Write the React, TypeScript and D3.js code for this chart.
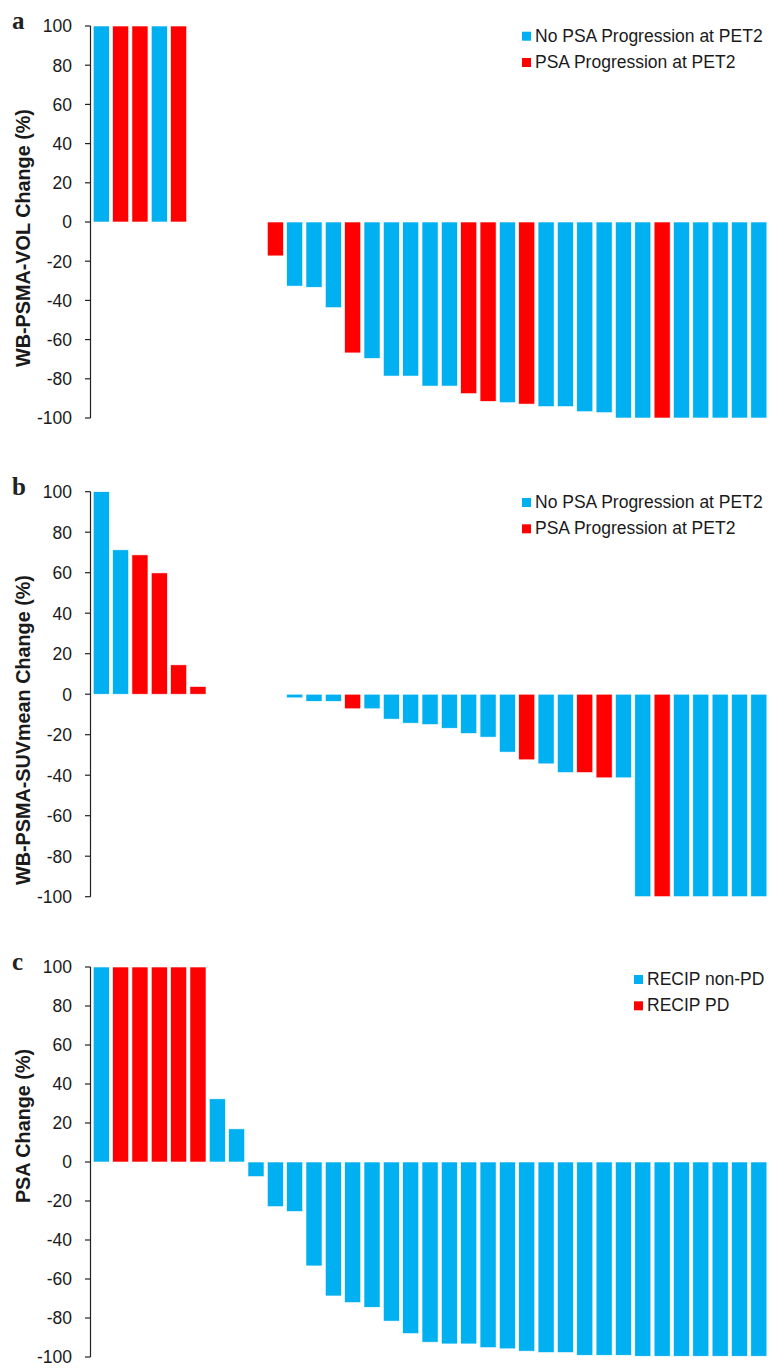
import React, { useEffect } from "react";
import * as d3 from "d3";

const BLUE = "#00B0F0";
const RED = "#FF0000";

// Panel a: WB-PSMA-VOL change (%), null = no bar
const volValues: (number | null)[] = [100, 100, 100, 100, 100, null, null, null, null,
  -17.3, -32.7, -33.3, -43.7, -66.8, -69.6,
  -78.6, -78.6, -83.7, -83.7, -87.6, -91.5, -92.2, -92.9, -94.2, -94.2,
  -96.8, -97.3, -100, -100, -100, -100, -100, -100, -100, -100];
const volGroups: string[] = ["n", "p", "p", "n", "p", "", "", "", "",
  "p", "n", "n", "n", "p", "n",
  "n", "n", "n", "n", "p", "p", "n", "p", "n", "n",
  "n", "n", "n", "n", "p", "n", "n", "n", "n", "n"];

// Panel b: WB-PSMA-SUVmean change (%)
const suvValues: (number | null)[] = [100, 71.3, 68.8, 59.9, 14.5, 3.8, null, null, null, null,
  -1.8, -3.5, -3.5, -7.2, -7.2,
  -12.3, -14.3, -15.0, -16.8, -19.4, -21.2, -28.6, -32.4, -34.4, -38.7,
  -38.7, -41.3, -41.3, -100, -100, -100, -100, -100, -100, -100];
const suvGroups: string[] = ["n", "n", "p", "p", "p", "p", "", "", "", "",
  "n", "n", "n", "p", "n",
  "n", "n", "n", "n", "n", "n", "n", "p", "n", "n",
  "p", "p", "n", "n", "p", "n", "n", "n", "n", "n"];

// Panel c: PSA change (%)
const psaValues: (number | null)[] = [100, 100, 100, 100, 100, 100, 32.4, 17.0, -7.5, -22.9, -25.4,
  -53.3, -68.7, -72.1, -74.5,
  -81.6, -88.0, -92.4, -93.3, -93.3, -95.2, -95.8, -97.0, -97.7, -97.7,
  -99.1, -99.1, -99.1, -99.6, -99.6, -99.6, -99.6, -99.6, -99.6, -99.6];
const psaGroups: string[] = ["n", "p", "p", "p", "p", "p", "n", "n", "n", "n", "n",
  "n", "n", "n", "n",
  "n", "n", "n", "n", "n", "n", "n", "n", "n", "n",
  "n", "n", "n", "n", "n", "n", "n", "n", "n", "n"];

const tickValues = [100, 80, 60, 40, 20, 0, -20, -40, -60, -80, -100];
const legendPSA = ["No PSA Progression at PET2", "PSA Progression at PET2"];
const legendRECIP = ["RECIP non-PD", "RECIP PD"];

interface PanelProps {
  label: string;
  title: string;
  values: (number | null)[];
  groups: string[];
  legend: string[];
  yTop: number;
  yBottom: number;
  titleCenter: number;
  legendX: number;
  legendBase: number;
}

const SANS = "'Liberation Sans', Arial, sans-serif";

function Panel(p: PanelProps) {
  const axisX = 90.5;
  const y = d3.scaleLinear().domain([-100, 100]).range([p.yBottom, p.yTop]);
  const idx = d3.range(p.values.length);
  const x = d3.scaleBand<number>().domain(idx).range([91.6, 768.5]).paddingInner(0.17).paddingOuter(0.085);
  const color = d3.scaleOrdinal<string, string>().domain(["n", "p"]).range([BLUE, RED]);
  return (
    <g>
      <text x={12} y={p.yTop + 3} fontFamily="'Liberation Serif', 'Times New Roman', serif" fontWeight="bold"
        fontSize={25} fill="#222">{p.label}</text>
      {idx.map((i) => {
        const v = p.values[i];
        if (v === null) return null;
        const y0 = y(0), y1 = y(v);
        return (
          <rect key={i} x={x(i)} y={Math.min(y0, y1)} width={x.bandwidth()} height={Math.abs(y1 - y0)}
            fill={color(p.groups[i])} stroke="#ffffff" strokeWidth={0.6} />
        );
      })}
      <line x1={axisX} x2={axisX} y1={y(100)} y2={y(-100)} stroke="#222" strokeWidth={1.2} />
      {tickValues.map((t) => (
        <g key={t}>
          <line x1={axisX - 5.5} x2={axisX} y1={y(t)} y2={y(t)} stroke="#222" strokeWidth={1.2} />
          <text x={72} y={y(t)} dy="0.36em" textAnchor="end" fontFamily={SANS} fontSize={17.5} fill="#1a1a1a">{t}</text>
        </g>
      ))}
      <text transform={`translate(30,${p.titleCenter}) rotate(-90)`} textAnchor="middle" fontFamily={SANS}
        fontWeight="bold" fontSize={19.8} fill="#1a1a1a">{p.title}</text>
      {p.legend.map((l, i) => (
        <g key={l}>
          <rect x={p.legendX} y={p.legendBase + i * 26.3 - 10} width={9} height={9} fill={i === 0 ? BLUE : RED} />
          <text x={p.legendX + 13} y={p.legendBase + i * 26.3} fontFamily={SANS} fontSize={17.5} fill="#1a1a1a">{l}</text>
        </g>
      ))}
    </g>
  );
}

export default function App() {
  useEffect(() => {
    document.body.style.margin = "0";
  }, []);
  return (
    <svg width={771} height={1368} style={{ display: "block", background: "#fff" }}>
      <Panel label="a" title="WB-PSMA-VOL Change (%)" values={volValues} groups={volGroups} legend={legendPSA}
        yTop={26} yBottom={418} titleCenter={238} legendX={522} legendBase={41.7} />
      <Panel label="b" title="WB-PSMA-SUVmean Change (%)" values={suvValues} groups={suvGroups} legend={legendPSA}
        yTop={491.7} yBottom={896.7} titleCenter={730} legendX={522} legendBase={508} />
      <Panel label="c" title="PSA Change (%)" values={psaValues} groups={psaGroups} legend={legendRECIP}
        yTop={967} yBottom={1357} titleCenter={1126} legendX={634} legendBase={985} />
    </svg>
  );
}
